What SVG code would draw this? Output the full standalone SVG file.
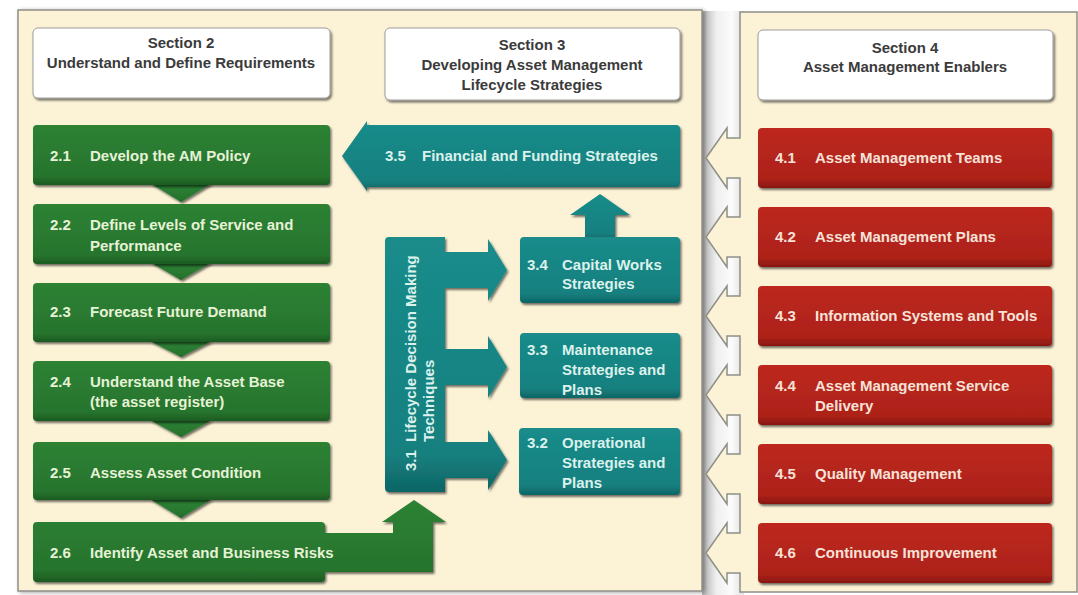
<svg xmlns="http://www.w3.org/2000/svg" width="1078" height="595" viewBox="0 0 1078 595">
  <defs>
    <linearGradient id="gGreen" x1="0" y1="0" x2="0" y2="1">
      <stop offset="0" stop-color="#2d8233"/>
      <stop offset="0.85" stop-color="#27742e"/>
      <stop offset="1" stop-color="#1c5a21"/>
    </linearGradient>
    <linearGradient id="gTeal" x1="0" y1="0" x2="0" y2="1">
      <stop offset="0" stop-color="#1a8c8a"/>
      <stop offset="0.85" stop-color="#15807f"/>
      <stop offset="1" stop-color="#0f6565"/>
    </linearGradient>
    <linearGradient id="gRed" x1="0" y1="0" x2="0" y2="1">
      <stop offset="0" stop-color="#bd281d"/>
      <stop offset="0.85" stop-color="#ad2219"/>
      <stop offset="1" stop-color="#881710"/>
    </linearGradient>
    <linearGradient id="gGap" x1="0" y1="0" x2="1" y2="0">
      <stop offset="0" stop-color="#b0b0b0"/>
      <stop offset="0.35" stop-color="#f0f0f0"/>
      <stop offset="0.7" stop-color="#fbfbfb"/>
      <stop offset="1" stop-color="#e0e0e0"/>
    </linearGradient>
    <filter id="shadow" x="-5%" y="-10%" width="110%" height="130%">
      <feDropShadow dx="1.5" dy="2" stdDeviation="1.3" flood-color="#000" flood-opacity="0.55"/>
    </filter>
    <filter id="soft" x="-5%" y="-5%" width="110%" height="110%">
      <feDropShadow dx="2" dy="1" stdDeviation="2" flood-color="#000" flood-opacity="0.35"/>
    </filter>
  </defs>
  <style>
    .panel { fill: #fcf3d7; stroke: #8f8f88; stroke-width: 1.5; }
    .head { fill: #ffffff; stroke: #9c9c9c; stroke-width: 1; filter: url(#shadow); }
    .green { fill: url(#gGreen); filter: url(#shadow); }
    .teal { fill: url(#gTeal); filter: url(#shadow); }
    .red { fill: url(#gRed); filter: url(#shadow); }
    text { font-family: "Liberation Sans", Arial, sans-serif; font-weight: bold; font-size: 15px; }
    .ht { fill: #3b3b3b; text-anchor: middle; }
    .gt { fill: #e6f2d6; }
    .tt { fill: #dcf1ec; }
    .rt { fill: #f7e2d8; }
  </style>

  <rect width="1078" height="595" fill="#ffffff"/>

  <!-- shaded gap between the two panels -->
  <rect x="702" y="11" width="42" height="584" fill="url(#gGap)"/>

  <!-- main panel: sections 2 and 3 -->
  <rect class="panel" x="18" y="10" width="684" height="581" filter="url(#soft)"/>

  <!-- enablers panel with its left edge shaped into arrows -->
  <path class="panel" d="M740,12 H1077 V592 H740
    V573 H727 V583 L706,553 L727,523 V533 H740
    V494 H727 V504 L706,474 L727,444 V454 H740
    V415 H727 V425 L706,395 L727,365 V375 H740
    V336 H727 V346 L706,316 L727,286 V296 H740
    V257 H727 V267 L706,237 L727,207 V217 H740
    V178 H727 V188 L706,158 L727,128 V138 H740 Z"/>

  <!-- section headers -->
  <g id="section2">
    <rect class="head" x="33" y="28" width="297" height="70" rx="5"/>
    <text class="ht" x="181" y="48">Section 2</text>
    <text class="ht" x="181" y="68">Understand and Define Requirements</text>
  </g>
  <g id="section3">
    <rect class="head" x="385" y="28" width="295" height="72" rx="5"/>
    <text class="ht" x="532" y="50">Section 3</text>
    <text class="ht" x="532" y="70">Developing Asset Management</text>
    <text class="ht" x="532" y="90">Lifecycle Strategies</text>
  </g>
  <g id="section4">
    <rect class="head" x="758" y="30" width="295" height="70" rx="5"/>
    <text class="ht" x="905" y="53">Section 4</text>
    <text class="ht" x="905" y="72">Asset Management Enablers</text>
  </g>

  <!-- connectors: flow arrows between steps -->
  <g id="connectors">
    <polygon class="green" points="150,183 212,183 181,202"/>
    <polygon class="green" points="150,262 212,262 181,280"/>
    <polygon class="green" points="150,341 212,341 181,357"/>
    <polygon class="green" points="150,420 212,420 181,437"/>
    <polygon class="green" points="150,499 212,499 181,518"/>
    <!-- 3.4 up to 3.5 -->
    <polygon class="teal" points="585,240 585,215 570,215 600,194 630,215 615,215 615,240"/>
  </g>

  <!-- section 2 steps -->
  <g id="s2-1">
    <rect class="green" x="33" y="125" width="297" height="60" rx="4"/>
    <text class="gt" x="50" y="161">2.1</text>
    <text class="gt" x="90" y="161">Develop the AM Policy</text>
  </g>
  <g id="s2-2">
    <rect class="green" x="33" y="204" width="297" height="60" rx="4"/>
    <text class="gt" x="50" y="230">2.2</text>
    <text class="gt" x="90" y="230">Define Levels of Service and</text>
    <text class="gt" x="90" y="251">Performance</text>
  </g>
  <g id="s2-3">
    <rect class="green" x="33" y="283" width="297" height="59" rx="4"/>
    <text class="gt" x="50" y="317">2.3</text>
    <text class="gt" x="90" y="317">Forecast Future Demand</text>
  </g>
  <g id="s2-4">
    <rect class="green" x="33" y="361" width="297" height="60" rx="4"/>
    <text class="gt" x="50" y="387">2.4</text>
    <text class="gt" x="90" y="387">Understand the Asset Base</text>
    <text class="gt" x="90" y="407">(the asset register)</text>
  </g>
  <g id="s2-5">
    <rect class="green" x="33" y="442" width="297" height="58" rx="4"/>
    <text class="gt" x="50" y="478">2.5</text>
    <text class="gt" x="90" y="478">Assess Asset Condition</text>
  </g>
  <g id="s2-6">
    <path class="green" d="M37,522 H321 Q325,522 325,526 V533 H393 V522 H382 L414,500 L446,522 H433 V572 H325 V578 Q325,582 321,582 H37 Q33,582 33,578 V526 Q33,522 37,522 Z"/>
    <text class="gt" x="50" y="558">2.6</text>
    <text class="gt" x="90" y="558">Identify Asset and Business Risks</text>
  </g>

  <!-- section 3 strategies -->
  <g id="s3-1">
    <path class="teal" d="M389,237 H445 V252 H488 V239 L507,270 L488,301 V288 H445
      V349 H488 V336 L507,367 L488,398 V385 H445
      V442 H488 V430 L507,460 L488,490 V478 H445 V492 H389 Q385,492 385,488 V241 Q385,237 389,237 Z"/>
    <g transform="translate(416,471) rotate(-90)">
      <text class="tt" x="0" y="0">3.1</text>
      <text class="tt" x="29" y="0">Lifecycle Decision Making</text>
      <text class="tt" x="29" y="18">Techniques</text>
    </g>
  </g>
  <g id="s3-2">
    <rect class="teal" x="519" y="428" width="161" height="67" rx="4"/>
    <text class="tt" x="527" y="448">3.2</text>
    <text class="tt" x="562" y="448">Operational</text>
    <text class="tt" x="562" y="468">Strategies and</text>
    <text class="tt" x="562" y="488">Plans</text>
  </g>
  <g id="s3-3">
    <rect class="teal" x="520" y="333" width="160" height="65" rx="4"/>
    <text class="tt" x="527" y="355">3.3</text>
    <text class="tt" x="562" y="355">Maintenance</text>
    <text class="tt" x="562" y="375">Strategies and</text>
    <text class="tt" x="562" y="395">Plans</text>
  </g>
  <g id="s3-4">
    <rect class="teal" x="520" y="237" width="160" height="66" rx="4"/>
    <text class="tt" x="527" y="270">3.4</text>
    <text class="tt" x="562" y="270">Capital Works</text>
    <text class="tt" x="562" y="289">Strategies</text>
  </g>
  <g id="s3-5">
    <path class="teal" d="M342,156 L367,121 V125 H676 Q680,125 680,129 V183 Q680,187 676,187 H367 V191 Z"/>
    <text class="tt" x="385" y="161">3.5</text>
    <text class="tt" x="422" y="161">Financial and Funding Strategies</text>
  </g>

  <!-- section 4 enablers -->
  <g id="s4-1">
    <rect class="red" x="758" y="128" width="294" height="60" rx="4"/>
    <text class="rt" x="775" y="163">4.1</text>
    <text class="rt" x="815" y="163">Asset Management Teams</text>
  </g>
  <g id="s4-2">
    <rect class="red" x="758" y="207" width="294" height="60" rx="4"/>
    <text class="rt" x="775" y="242">4.2</text>
    <text class="rt" x="815" y="242">Asset Management Plans</text>
  </g>
  <g id="s4-3">
    <rect class="red" x="758" y="286" width="294" height="60" rx="4"/>
    <text class="rt" x="775" y="321">4.3</text>
    <text class="rt" x="815" y="321">Information Systems and Tools</text>
  </g>
  <g id="s4-4">
    <rect class="red" x="758" y="365" width="294" height="60" rx="4"/>
    <text class="rt" x="775" y="391">4.4</text>
    <text class="rt" x="815" y="391">Asset Management Service</text>
    <text class="rt" x="815" y="411">Delivery</text>
  </g>
  <g id="s4-5">
    <rect class="red" x="758" y="444" width="294" height="60" rx="4"/>
    <text class="rt" x="775" y="479">4.5</text>
    <text class="rt" x="815" y="479">Quality Management</text>
  </g>
  <g id="s4-6">
    <rect class="red" x="758" y="523" width="294" height="60" rx="4"/>
    <text class="rt" x="775" y="558">4.6</text>
    <text class="rt" x="815" y="558">Continuous Improvement</text>
  </g>
</svg>
